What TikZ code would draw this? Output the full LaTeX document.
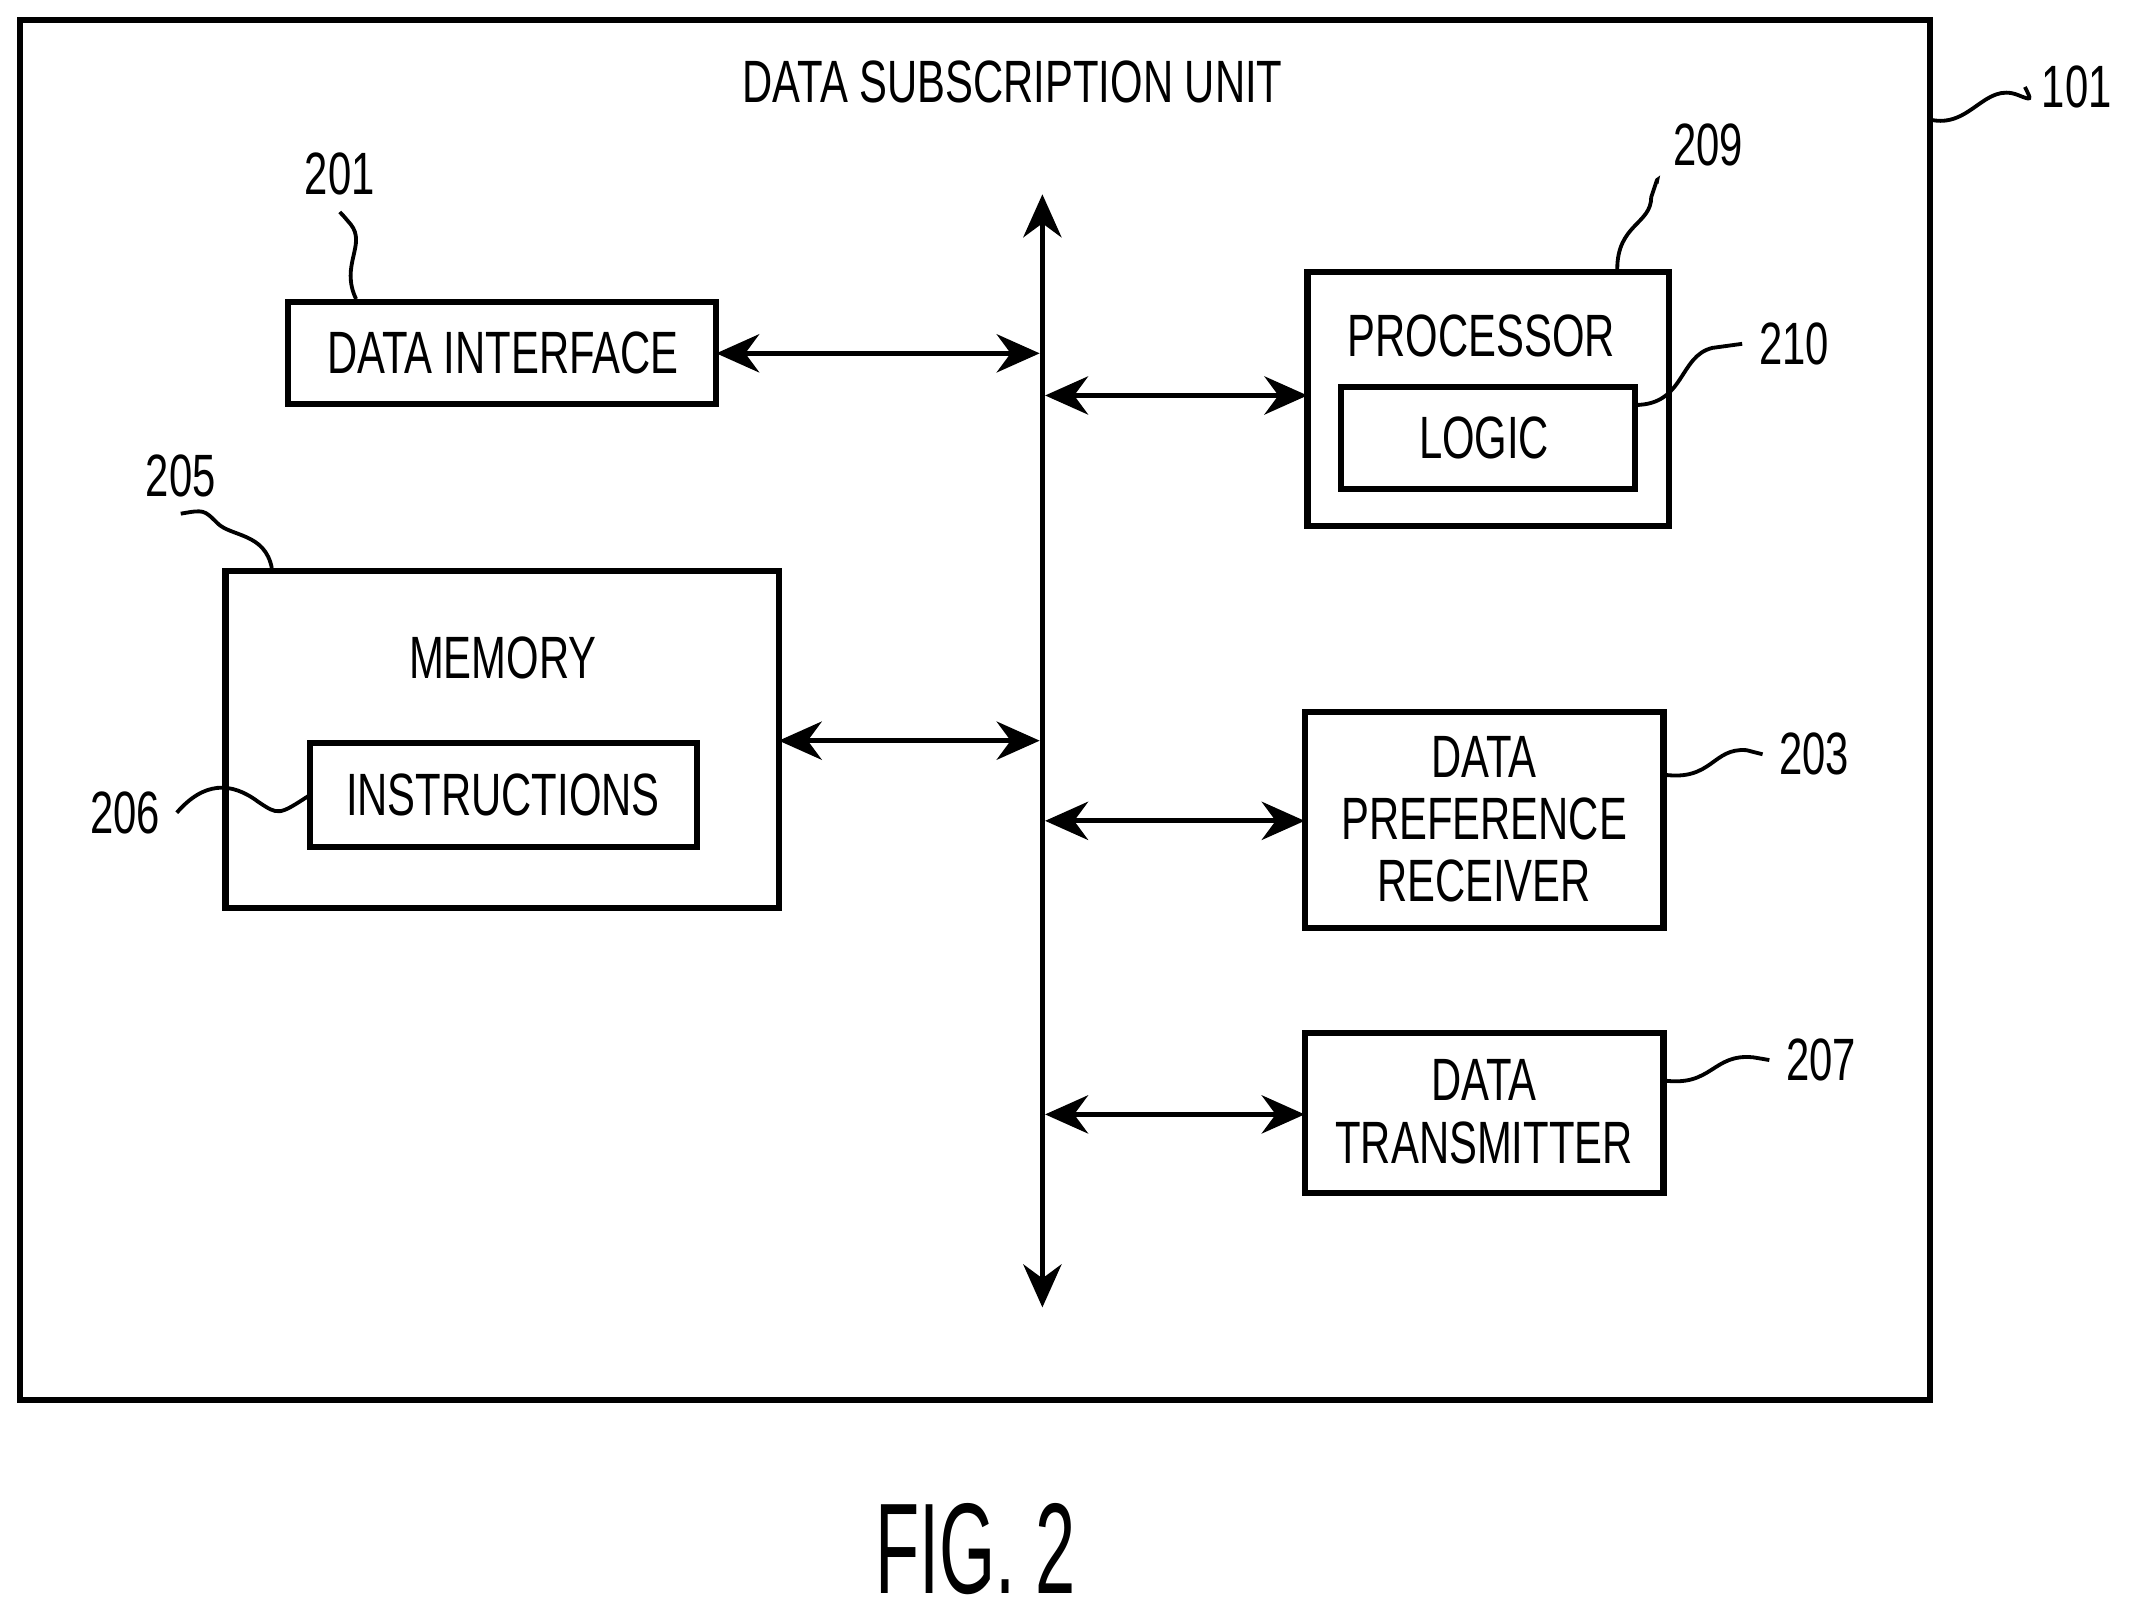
\documentclass[tikz,border=0pt]{standalone}
\usepackage{fontspec}
\setmainfont{Liberation Sans}[FakeStretch=0.7]
\usetikzlibrary{arrows.meta}
\begin{document}
\begin{tikzpicture}[x=0.01cm,y=-0.01cm,
  box/.style={draw,line width=1.3pt,inner sep=0pt},
  txt/.style={font=\fontsize{12.5}{15}\selectfont,align=center},
  lbl/.style={font=\fontsize{12.5}{15}\selectfont},
  lead/.style={line width=0.8pt},
  conn/.style={line width=1pt,{Stealth[length=9pt,width=8pt]}-{Stealth[length=9pt,width=8pt]}}]
\useasboundingbox (0,0) rectangle (1568,1189);
\draw[box] (15,15) rectangle (1420,1030);
\node[txt] (title) at (745,60) {DATA SUBSCRIPTION UNIT};
\coordinate (outer) at (1420,88);
\node[lbl] (l101) at (1528,64) {101};
\draw[lead] (outer) .. controls (1450,95) and (1460,60) .. (1485,70) .. controls (1495,74) .. (l101.west);
% data interface
\draw[box] (212,222) rectangle (527,297);
\node[txt] (di) at (370,260) {DATA INTERFACE};
\coordinate (diE) at (527,260);
\node[lbl] (l201) at (250,128) {201};
\draw[lead] (262,220) .. controls (250,195) and (270,180) .. (258,165) .. controls (252,158) .. (l201.south);
% bus
\coordinate (busT) at (767,143);
\coordinate (busB) at (767,962);
\draw[conn] (busT) -- (busB);
\coordinate (b1) at (765,260);
\coordinate (b2) at (769,291);
\coordinate (b3) at (765,545);
\coordinate (b4) at (769,604);
\coordinate (b5) at (769,820);
\draw[conn] (diE) -- (b1);
% processor
\draw[box] (962,200) rectangle (1228,387);
\node[txt] (proc) at (1090,247) {PROCESSOR};
\draw[box] (987,285) rectangle (1203,360);
\node[txt] (logic) at (1092,322) {LOGIC};
\coordinate (procW) at (962,291);
\draw[conn] (b2) -- (procW);
\node[lbl] (l209) at (1257,107) {209};
\draw[lead] (1190,198) .. controls (1190,165) and (1215,165) .. (1215,145) .. controls (1220,130) .. (l209.south west);
\node[lbl] (l210) at (1320,253) {210};
\draw[lead] (1203,298) .. controls (1240,298) and (1235,262) .. (1260,256) -- (l210.west);
% memory
\draw[box] (166,420) rectangle (573,668);
\node[txt] (mem) at (370,484) {MEMORY};
\draw[box] (228,547) rectangle (513,623);
\node[txt] (instr) at (370,585) {INSTRUCTIONS};
\coordinate (memE) at (573,545);
\draw[conn] (memE) -- (b3);
\node[lbl] (l205) at (133,350) {205};
\draw[lead] (200,418) .. controls (195,392) and (170,395) .. (160,385) .. controls (150,375) .. (l205.south);
\node[lbl] (l206) at (92,598) {206};
\draw[lead] (l206.east) .. controls (150,575) and (170,575) .. (190,590) .. controls (205,600) .. (228,585);
% DPR
\draw[box] (960,524) rectangle (1224,683);
\node[txt] (dpr) at (1092,603) {DATA\\[-2pt]PREFERENCE\\[-2pt]RECEIVER};
\coordinate (dprW) at (960,604);
\draw[conn] (b4) -- (dprW);
\node[lbl] (l203) at (1335,555) {203};
\draw[lead] (1224,570) .. controls (1260,575) and (1260,550) .. (1285,552) -- (l203.west);
% DT
\draw[box] (960,760) rectangle (1224,878);
\node[txt] (dt) at (1092,818) {DATA\\[-2pt]TRANSMITTER};
\coordinate (dtW) at (960,820);
\draw[conn] (b5) -- (dtW);
\node[lbl] (l207) at (1340,780) {207};
\draw[lead] (1224,795) .. controls (1260,800) and (1260,775) .. (1290,778) -- (l207.west);
\node[font=\fontsize{27}{30}\selectfont,xscale=0.8] (fig) at (718,1140) {FIG. 2};
\end{tikzpicture}
\end{document}
